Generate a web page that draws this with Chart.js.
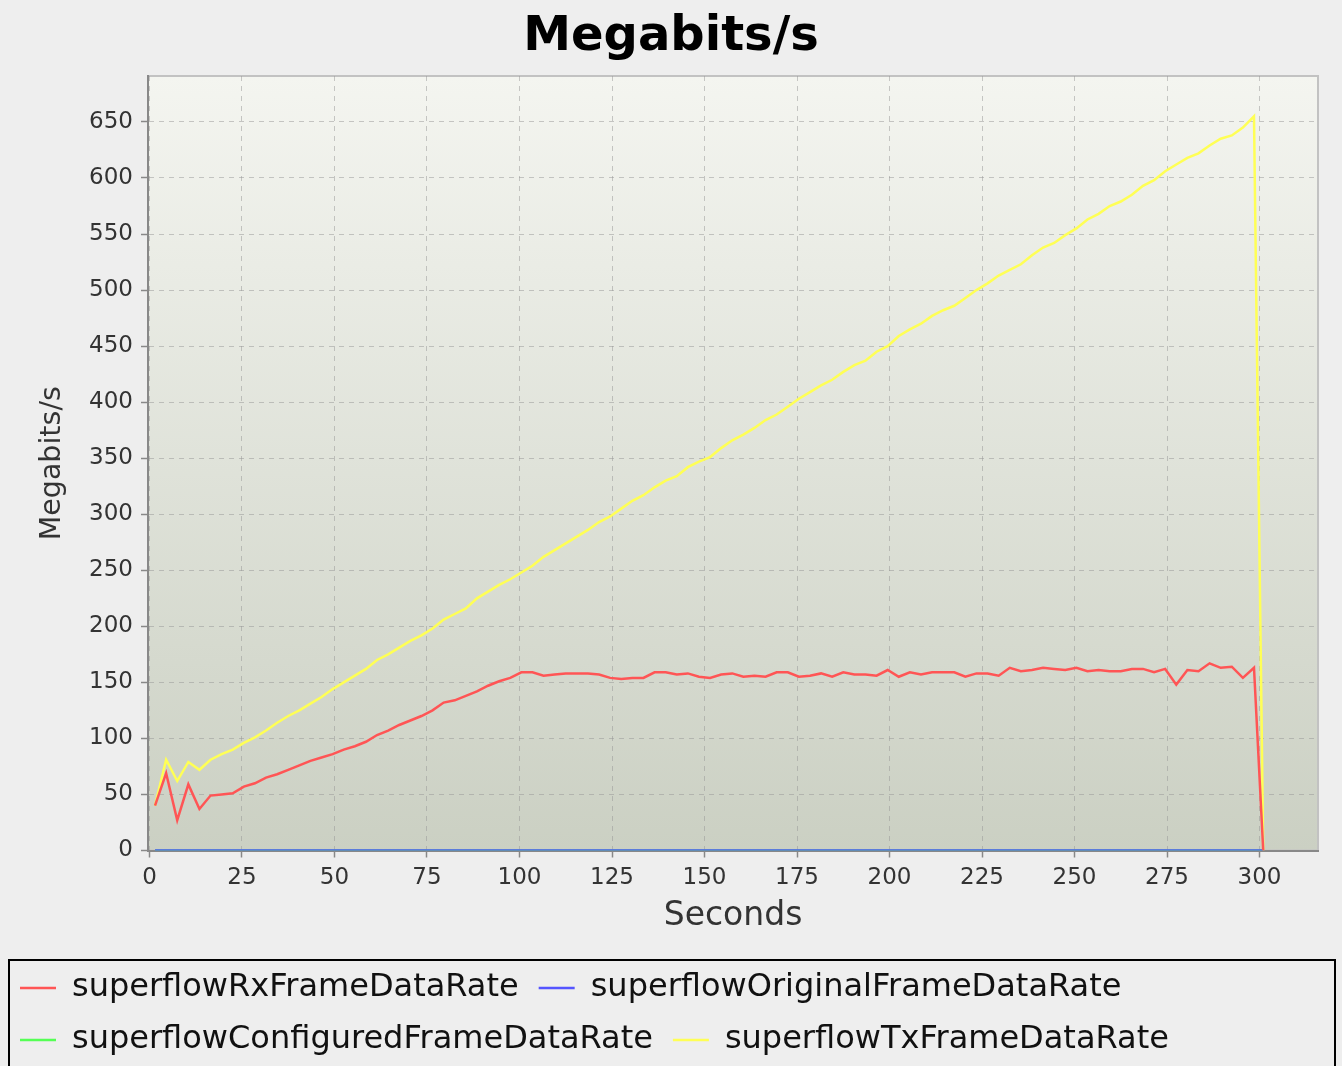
<!DOCTYPE html>
<html>
<head>
<meta charset="utf-8">
<title>Megabits/s</title>
<script src="https://cdn.jsdelivr.net/npm/chart.js@4.4.1/dist/chart.umd.min.js"></script>
<style>
  html, body { margin: 0; padding: 0; background: #eeeeee; }
  #wrap { width: 1342px; height: 1066px; }
</style>
</head>
<body>
<div id="wrap"><canvas id="myChart"></canvas></div>
<script>
// sample times (s)
const seconds = [
  1.5, 4.5, 7.5, 10.5, 13.5, 16.5, 19.5, 22.5, 25.5, 28.5,
  31.5, 34.5, 37.5, 40.5, 43.5, 46.5, 49.5, 52.5, 55.5, 58.5,
  61.5, 64.5, 67.5, 70.5, 73.5, 76.5, 79.5, 82.5, 85.5, 88.5,
  91.5, 94.5, 97.5, 100.5, 103.5, 106.5, 109.5, 112.5, 115.5, 118.5,
  121.5, 124.5, 127.5, 130.5, 133.5, 136.5, 139.5, 142.5, 145.5, 148.5,
  151.5, 154.5, 157.5, 160.5, 163.5, 166.5, 169.5, 172.5, 175.5, 178.5,
  181.5, 184.5, 187.5, 190.5, 193.5, 196.5, 199.5, 202.5, 205.5, 208.5,
  211.5, 214.5, 217.5, 220.5, 223.5, 226.5, 229.5, 232.5, 235.5, 238.5,
  241.5, 244.5, 247.5, 250.5, 253.5, 256.5, 259.5, 262.5, 265.5, 268.5,
  271.5, 274.5, 277.5, 280.5, 283.5, 286.5, 289.5, 292.5, 295.5, 298.5,
  301
];

const rxRate = [
  40, 69, 27, 59, 37, 49, 50, 51, 57, 60,
  65, 68, 72, 76, 80, 83, 86, 90, 93, 97,
  103, 107, 112, 116, 120, 125, 132, 134, 138, 142,
  147, 151, 154, 159, 159, 156, 157, 158, 158, 158,
  157, 154, 153, 154, 154, 159, 159, 157, 158, 155,
  154, 157, 158, 155, 156, 155, 159, 159, 155, 156,
  158, 155, 159, 157, 157, 156, 161, 155, 159, 157,
  159, 159, 159, 155, 158, 158, 156, 163, 160, 161,
  163, 162, 161, 163, 160, 161, 160, 160, 162, 162,
  159, 162, 148, 161, 160, 167, 163, 164, 154, 163,
  0
];

const originalRate = [
  0, 0, 0, 0, 0, 0, 0, 0, 0, 0,
  0, 0, 0, 0, 0, 0, 0, 0, 0, 0,
  0, 0, 0, 0, 0, 0, 0, 0, 0, 0,
  0, 0, 0, 0, 0, 0, 0, 0, 0, 0,
  0, 0, 0, 0, 0, 0, 0, 0, 0, 0,
  0, 0, 0, 0, 0, 0, 0, 0, 0, 0,
  0, 0, 0, 0, 0, 0, 0, 0, 0, 0,
  0, 0, 0, 0, 0, 0, 0, 0, 0, 0,
  0, 0, 0, 0, 0, 0, 0, 0, 0, 0,
  0, 0, 0, 0, 0, 0, 0, 0, 0, 0,
  0
];

const configuredRate = [
  0, 0, 0, 0, 0, 0, 0, 0, 0, 0,
  0, 0, 0, 0, 0, 0, 0, 0, 0, 0,
  0, 0, 0, 0, 0, 0, 0, 0, 0, 0,
  0, 0, 0, 0, 0, 0, 0, 0, 0, 0,
  0, 0, 0, 0, 0, 0, 0, 0, 0, 0,
  0, 0, 0, 0, 0, 0, 0, 0, 0, 0,
  0, 0, 0, 0, 0, 0, 0, 0, 0, 0,
  0, 0, 0, 0, 0, 0, 0, 0, 0, 0,
  0, 0, 0, 0, 0, 0, 0, 0, 0, 0,
  0, 0, 0, 0, 0, 0, 0, 0, 0, 0,
  0
];

const txRate = [
  40, 81, 62, 79, 72, 81, 86, 90, 96, 101,
  107, 114, 120, 125, 131, 137, 144, 150, 156, 162,
  170, 175, 181, 187, 192, 198, 206, 211, 216, 225,
  231, 237, 242, 248, 254, 262, 268, 274, 280, 286,
  293, 298, 305, 312, 317, 324, 330, 334, 342, 347,
  351, 359, 366, 371, 377, 384, 389, 396, 403, 409,
  415, 420, 427, 433, 437, 445, 450, 459, 465, 470,
  477, 482, 486, 493, 500, 506, 513, 518, 523, 531,
  538, 542, 549, 555, 563, 568, 575, 579, 585, 593,
  598, 606, 612, 618, 622, 629, 635, 638, 645, 655,
  0
];

const xTickStep = 25;
const yTickStep = 50;

const font = 'DejaVu Sans';

function points(values) {
  return values.map((v, i) => ({ x: seconds[i], y: v }));
}

// plot gradient + outline, legend frame
const chartFrame = {
  id: 'chartFrame',
  beforeDraw(chart) {
    const { ctx, chartArea: a } = chart;
    ctx.save();
    ctx.fillStyle = '#eeeeee';
    ctx.fillRect(0, 0, chart.width, chart.height);
    const g = ctx.createLinearGradient(0, a.top, 0, a.bottom);
    g.addColorStop(0, '#f4f5f0');
    g.addColorStop(1, '#cbd0c3');
    ctx.fillStyle = g;
    ctx.fillRect(a.left, a.top, a.right - a.left, a.bottom - a.top);
    ctx.strokeStyle = '#c2c2c2';
    ctx.lineWidth = 2;
    ctx.strokeRect(a.left, a.top, a.right - a.left, a.bottom - a.top);
    ctx.restore();
  },
  afterDraw(chart) {
    const { ctx } = chart;
    const l = chart.legend;
    ctx.save();
    ctx.strokeStyle = '#000000';
    ctx.lineWidth = 2;
    ctx.strokeRect(9, l.top + 8, chart.width - 16, chart.height);
    ctx.restore();
  }
};

const ctx = document.getElementById('myChart');

new Chart(ctx, {
  type: 'line',
  data: {
    datasets: [{
      label: 'superflowRxFrameDataRate',
      data: points(rxRate),
      borderColor: '#ff5555',
      backgroundColor: '#ff5555',
      borderWidth: 2.5
    }, {
      label: 'superflowOriginalFrameDataRate',
      data: points(originalRate),
      borderColor: '#5555ff',
      backgroundColor: '#5555ff',
      borderWidth: 2.5
    }, {
      label: 'superflowConfiguredFrameDataRate',
      data: points(configuredRate),
      borderColor: '#55ff55',
      backgroundColor: '#55ff55',
      borderWidth: 2.5
    }, {
      label: 'superflowTxFrameDataRate',
      data: points(txRate),
      borderColor: '#ffff55',
      backgroundColor: '#ffff55',
      borderWidth: 2.5
    }]
  },
  options: {
    responsive: true,
    maintainAspectRatio: false,
    animation: false,
    elements: {
      point: { radius: 0 },
      line: { tension: 0 }
    },
    layout: { padding: 0 },
    plugins: {
      tooltip: { enabled: false },
      title: {
        display: true,
        text: 'Megabits/s',
        color: '#000000',
        font: { family: font, size: 48, weight: 'bold' },
        padding: { top: 9, bottom: 9.4 }
      },
      legend: {
        position: 'bottom',
        align: 'start',
        labels: {
          color: '#111111',
          font: { family: font, size: 32 },
          usePointStyle: true,
          pointStyle: 'line',
          pointStyleWidth: 36,
          padding: 20
        }
      }
    },
    scales: {
      x: {
        type: 'linear',
        min: -0.4,
        max: 315.8,
        afterFit(scale) {
          scale.height = 101.5;
          scale.paddingRight = 24;
        },
        title: {
          display: true,
          text: 'Seconds',
          color: '#333333',
          font: { family: font, size: 33 },
          padding: { top: 0, bottom: 16 }
        },
        ticks: {
          stepSize: xTickStep,
          includeBounds: false,
          autoSkip: false,
          maxRotation: 0,
          padding: 7,
          color: '#333333',
          font: { family: font, size: 23 }
        },
        grid: {
          color: 'rgba(150,150,150,0.5)',
          lineWidth: 1,
          tickLength: 7,
          tickColor: '#888888',
          tickWidth: 1.5
        },
        border: { color: '#888888', width: 2, dash: [5, 5] }
      },
      y: {
        min: 0,
        max: 691,
        afterFit(scale) { scale.width = 148; },
        title: {
          display: true,
          text: 'Megabits/s',
          color: '#333333',
          font: { family: font, size: 28.5 },
          padding: { top: 35, bottom: 0 }
        },
        ticks: {
          stepSize: yTickStep,
          includeBounds: false,
          padding: 8,
          color: '#333333',
          font: { family: font, size: 23 }
        },
        grid: {
          color: 'rgba(150,150,150,0.5)',
          lineWidth: 1,
          tickLength: 7,
          tickColor: '#888888',
          tickWidth: 1.5
        },
        border: { color: '#888888', width: 2, dash: [5, 5] }
      }
    }
  },
  plugins: [chartFrame]
});
</script>
</body>
</html>
